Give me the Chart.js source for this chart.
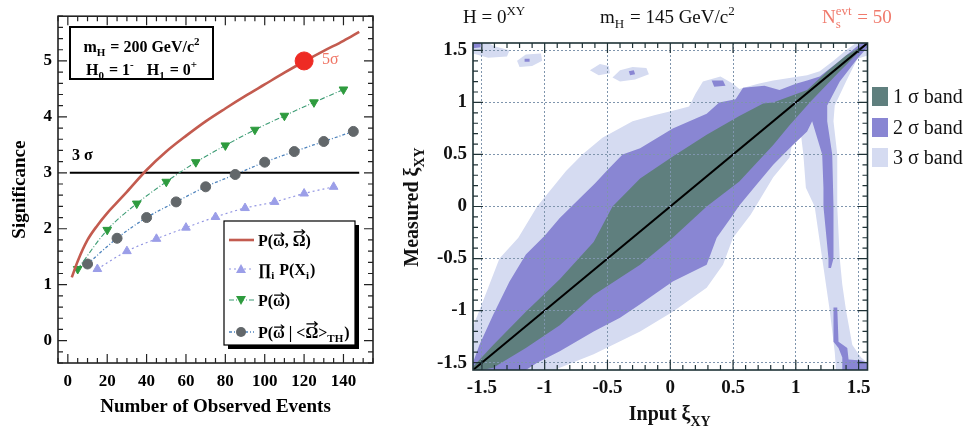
<!DOCTYPE html>
<html lang="en">
<head>
  <meta charset="UTF-8" />
  <title>Significance and measured xi</title>
  <script src="https://cdn.jsdelivr.net/npm/chart.js"></script>
  <style>
    body { margin: 0; background: #fff; width: 971px; height: 437px; position: relative; overflow: hidden; }
    canvas { position: absolute; top: 0; }
    #sigChart { left: 0; }
    #xiChart { left: 390px; }
  </style>
</head>
<body>
  <canvas id="sigChart" width="385" height="437"></canvas>
  <canvas id="xiChart" width="581" height="437"></canvas>

  <script>
    const SERIF = '"Liberation Serif", "Times New Roman", serif';

    // left panel: significance vs number of observed events
    const fullX = [2, 5, 10, 15, 20, 25, 30, 40, 50, 60, 70, 80, 90, 100, 110, 120, 130, 140, 148];
    const fullY = [1.13, 1.42, 1.80, 2.06, 2.28, 2.47, 2.66, 3.05, 3.38, 3.66, 3.92, 4.15, 4.37, 4.58, 4.79, 4.99, 5.18, 5.36, 5.52];
    const prodX = [15, 30, 45, 60, 75, 90, 105, 120, 135];
    const prodY = [1.28, 1.60, 1.82, 2.02, 2.21, 2.37, 2.48, 2.63, 2.75];
    const omegaX = [5, 20, 35, 50, 65, 80, 95, 110, 125, 140];
    const omegaY = [1.28, 1.98, 2.45, 2.84, 3.19, 3.49, 3.77, 4.02, 4.26, 4.49];
    const thX = [10, 25, 40, 55, 70, 85, 100, 115, 130, 145];
    const thY = [1.37, 1.83, 2.20, 2.48, 2.75, 2.97, 3.19, 3.38, 3.56, 3.74];
    const threeSigmaX = [1, 148];
    const threeSigmaY = [3, 3];
    const fiveSigmaX = [120];
    const fiveSigmaY = [5];
    const sigXTicks = [0, 20, 40, 60, 80, 100, 120, 140];
    const sigYTicks = [0, 1, 2, 3, 4, 5];

    // right panel: contour bands, [input xi, measured xi] outlines
    const oneSigma = [
      [-1.571, -1.571], [-1.571, -1.54], [-1.41, -1.33], [-1.15, -1.01], [-0.88, -0.70], [-0.61, -0.34],
      [-0.46, 0.0], [-0.24, 0.27], [0.02, 0.48], [0.29, 0.69], [0.55, 0.87], [0.74, 0.99], [0.82, 1.0],
      [1.09, 1.12], [1.25, 1.30], [1.40, 1.45], [1.571, 1.571],
      [1.40, 1.36], [1.35, 1.30], [1.12, 1.01], [1.09, 0.97], [0.95, 0.78], [0.82, 0.59], [0.55, 0.24],
      [0.29, 0.0], [0.02, -0.30], [-0.24, -0.56], [-0.61, -0.85], [-0.88, -1.14], [-1.15, -1.36],
      [-1.41, -1.55], [-1.50, -1.571]
    ];
    const twoSigma = [
      [-1.571, -1.571], [-1.571, -1.50], [-1.52, -1.33], [-1.41, -1.04], [-1.28, -0.72], [-1.15, -0.46],
      [-1.0, -0.28], [-0.88, -0.11], [-0.72, 0.08], [-0.6, 0.22], [-0.5, 0.35], [-0.38, 0.5], [-0.24, 0.56],
      [0.02, 0.75], [0.29, 0.89], [0.39, 1.0], [0.52, 1.03], [0.58, 1.14], [0.75, 1.16], [0.87, 1.12],
      [1.0, 1.18], [1.09, 1.21], [1.19, 1.25], [1.35, 1.40], [1.45, 1.50], [1.52, 1.571], [1.571, 1.571],
      [1.571, 1.53], [1.49, 1.42], [1.35, 1.2], [1.25, 0.97], [1.25, 0.82], [1.29, 0.5], [1.30, 0.0],
      [1.30, -0.5], [1.28, -0.59], [1.26, -0.59], [1.26, -0.5], [1.22, 0.0], [1.22, 0.18], [1.21, 0.5],
      [1.13, 0.82], [1.09, 0.72], [0.95, 0.56], [0.82, 0.40], [0.68, 0.2], [0.55, 0.01], [0.5, -0.08],
      [0.37, -0.3], [0.29, -0.56], [0.02, -0.72], [-0.24, -0.94], [-0.4, -1.07], [-0.61, -1.2],
      [-0.88, -1.39], [-1.06, -1.5], [-1.15, -1.571]
    ];
    const twoSigmaTail = [
      [1.30, -0.97], [1.33, -0.97], [1.34, -1.3], [1.41, -1.36], [1.42, -1.47], [1.52, -1.48],
      [1.571, -1.50], [1.571, -1.571], [1.37, -1.571], [1.37, -1.45], [1.34, -1.36], [1.30, -1.30]
    ];
    const twoSigmaSpots = [
      [[-1.571, 1.571], [-1.51, 1.571], [-1.51, 1.53], [-1.571, 1.52]],
      [[-1.16, 1.42], [-1.12, 1.42], [-1.12, 1.39], [-1.16, 1.39]],
      [[-0.33, 1.30], [-0.29, 1.31], [-0.28, 1.27], [-0.32, 1.26]],
      [[0.33, 1.21], [0.42, 1.21], [0.44, 1.16], [0.35, 1.15]]
    ];
    const threeSigma = [
      [-1.571, -1.571], [-1.571, -1.15], [-1.52, -1.0], [-1.45, -0.78], [-1.36, -0.5], [-1.21, -0.3],
      [-1.06, 0.0], [-0.83, 0.34], [-0.70, 0.5], [-0.54, 0.66], [-0.30, 0.82], [-0.12, 0.88], [0.02, 0.92],
      [0.15, 0.96], [0.20, 1.08], [0.26, 1.20], [0.40, 1.25], [0.50, 1.18], [0.55, 1.13], [0.70, 1.18],
      [0.82, 1.21], [1.09, 1.26], [1.19, 1.30], [1.30, 1.40], [1.40, 1.50], [1.48, 1.571], [1.571, 1.571],
      [1.571, 1.45], [1.49, 1.42], [1.40, 1.2], [1.31, 0.97], [1.30, 0.82], [1.33, 0.5], [1.33, 0.0],
      [1.35, -0.5], [1.37, -0.75], [1.40, -1.0], [1.45, -1.33], [1.52, -1.45], [1.571, -1.50],
      [1.571, -1.571], [1.32, -1.571], [1.31, -1.4], [1.27, -1.0], [1.24, -0.75], [1.21, -0.5],
      [1.15, 0.0], [1.08, 0.18], [1.06, 0.5], [1.03, 0.8], [1.0, 0.82], [0.97, 0.6], [0.95, 0.47],
      [0.82, 0.28], [0.68, 0.0], [0.64, -0.08], [0.5, -0.3], [0.42, -0.56], [0.29, -0.78], [0.02, -1.01],
      [-0.24, -1.2], [-0.61, -1.42], [-0.88, -1.55], [-0.92, -1.571]
    ];
    const threeSigmaIslands = [
      [[-1.571, 1.571], [-1.45, 1.571], [-1.40, 1.54], [-1.28, 1.50], [-1.30, 1.44], [-1.45, 1.43], [-1.571, 1.47]],
      [[-1.22, 1.40], [-1.15, 1.46], [-1.03, 1.47], [-1.02, 1.40], [-1.10, 1.35], [-1.20, 1.34]],
      [[-0.64, 1.31], [-0.56, 1.37], [-0.49, 1.35], [-0.48, 1.28], [-0.57, 1.26]],
      [[-0.46, 1.24], [-0.40, 1.31], [-0.30, 1.34], [-0.19, 1.33], [-0.17, 1.27], [-0.28, 1.22], [-0.40, 1.20]]
    ];
    const diagX = [-1.571, 1.571];
    const diagY = [-1.571, 1.571];
    const xiTicks = [-1.5, -1, -0.5, 0, 0.5, 1, 1.5];
    const bandLabels = ['1 σ band', '2 σ band', '3 σ band'];
    const bandColors = ['#5f7f7e', '#8986d3', '#d5dbf1'];

    const pts = (xs, ys) => xs.map((x, i) => ({ x, y: ys[i] }));
    const poly = arr => arr.map(([x, y]) => ({ x, y }));

    // text with sub/superscripts: [text, kind, text2]; kind '' | 'b' sub | 'p' sup | 's' both | 'v' vector
    function rich(ctx, parts, x, y, size, align, weight) {
      const f = s => `${weight} ${s}px ${SERIF}`;
      const sm = Math.round(size * 0.68);
      const ws = parts.map(p => {
        if (p[1] === 'b' || p[1] === 'p') { ctx.font = f(sm); return ctx.measureText(p[0]).width + 1; }
        if (p[1] === 's') { ctx.font = f(sm); return Math.max(ctx.measureText(p[0]).width, ctx.measureText(p[2]).width) + 1; }
        ctx.font = f(size); return ctx.measureText(p[0]).width;
      });
      const total = ws.reduce((a, b) => a + b, 0);
      let cx = align === 'center' ? x - total / 2 : align === 'right' ? x - total : x;
      ctx.textAlign = 'left';
      ctx.textBaseline = 'alphabetic';
      parts.forEach((p, i) => {
        const k = p[1];
        if (k === 'b') { ctx.font = f(sm); ctx.fillText(p[0], cx, y + size * 0.28); }
        else if (k === 'p') { ctx.font = f(sm); ctx.fillText(p[0], cx, y - size * 0.42); }
        else if (k === 's') { ctx.font = f(sm); ctx.fillText(p[0], cx, y + size * 0.28); ctx.fillText(p[2], cx, y - size * 0.42); }
        else {
          ctx.font = f(size); ctx.fillText(p[0], cx, y);
          if (k === 'v') {
            const ay = y - size * (p[0] === 'Ω' ? 0.88 : 0.68);
            ctx.save();
            ctx.strokeStyle = ctx.fillStyle; ctx.lineWidth = 1.2;
            ctx.beginPath();
            ctx.moveTo(cx + 1, ay); ctx.lineTo(cx + ws[i] - 1, ay);
            ctx.moveTo(cx + ws[i] - 4, ay - 2.5); ctx.lineTo(cx + ws[i] - 1, ay); ctx.lineTo(cx + ws[i] - 4, ay + 2.5);
            ctx.stroke();
            ctx.restore();
          }
        }
        cx += ws[i];
      });
      return total;
    }

    // ROOT-like frame with inward ticks on all four sides
    function framePlugin(xMajor, xStep, yMajor, yStep, color, majLen, minLen) {
      const steps = (min, max, step) => {
        const out = [];
        for (let v = Math.ceil(min / step - 1e-9) * step; v <= max + 1e-9; v += step) out.push(v);
        return out;
      };
      const isMajor = (list, v) => list.some(m => Math.abs(m - v) < 1e-6);
      return {
        id: 'frame',
        afterDraw(chart) {
          const { ctx, chartArea: a, scales: { x, y } } = chart;
          ctx.save();
          ctx.strokeStyle = color;
          ctx.lineWidth = 1.2;
          ctx.beginPath();
          steps(x.min, x.max, xStep).forEach(v => {
            const px = x.getPixelForValue(v), L = isMajor(xMajor, v) ? majLen : minLen;
            ctx.moveTo(px, a.bottom); ctx.lineTo(px, a.bottom - L);
            ctx.moveTo(px, a.top); ctx.lineTo(px, a.top + L);
          });
          steps(y.min, y.max, yStep).forEach(v => {
            const py = y.getPixelForValue(v), L = isMajor(yMajor, v) ? majLen : minLen;
            ctx.moveTo(a.left, py); ctx.lineTo(a.left + L, py);
            ctx.moveTo(a.right, py); ctx.lineTo(a.right - L, py);
          });
          ctx.stroke();
          ctx.lineWidth = 1.6;
          ctx.strokeRect(a.left, a.top, a.right - a.left, a.bottom - a.top);
          ctx.restore();
        }
      };
    }

    // ---------- left chart ----------
    const sigStyles = [
      { label: 'full', x: fullX, y: fullY, color: '#c35b4f', width: 2.6, dash: [], marker: null },
      { label: 'prod', x: prodX, y: prodY, color: '#9295e2', width: 1.2, dash: [2, 3], marker: 'up', fill: '#9b9ee8' },
      { label: 'omega', x: omegaX, y: omegaY, color: '#3c9c74', width: 1.1, dash: [5, 2, 1, 2], marker: 'down', fill: '#2e9b3e' },
      { label: 'th', x: thX, y: thY, color: '#4f84bd', width: 1.3, dash: [3, 2, 1, 2], marker: 'circle', fill: '#62676a' }
    ];

    const sigLegend = {
      id: 'sigLegend',
      afterDraw(chart) {
        const { ctx } = chart;
        ctx.save();
        // info box
        ctx.fillStyle = '#fff';
        ctx.strokeStyle = '#000';
        ctx.lineWidth = 2;
        ctx.strokeRect(70, 27, 143, 52);
        ctx.fillStyle = '#000';
        rich(ctx, [['m', ''], ['H', 'b'], [' = 200 GeV/c', ''], ['2', 'p']], 142, 52, 16, 'center', 'bold');
        rich(ctx, [['H', ''], ['0', 'b'], [' = 1', ''], ['-', 'p'], ['   H', ''], ['1', 'b'], [' = 0', ''], ['+', 'p']], 142, 75, 16, 'center', 'bold');
        // 3 sigma and 5 sigma labels
        rich(ctx, [['3 σ', '']], 72, 160, 16, 'left', 'bold');
        ctx.fillStyle = '#f07565';
        rich(ctx, [['5σ', '']], 322, 64, 16, 'left', 'normal');
        // legend box with shadow
        ctx.fillStyle = '#000';
        ctx.fillRect(228, 225, 131, 124);
        ctx.fillStyle = '#fff';
        ctx.fillRect(224, 221, 131, 124);
        ctx.strokeStyle = '#000';
        ctx.lineWidth = 1.2;
        ctx.strokeRect(224, 221, 131, 124);
        const rows = [240, 269, 300, 332];
        const texts = [
          [['P(', ''], ['ω', 'v'], [', ', ''], ['Ω', 'v'], [')', '']],
          [['∏', ''], ['i', 'b'], [' P(X', ''], ['i', 'b'], [')', '']],
          [['P(', ''], ['ω', 'v'], [')', '']],
          [['P(', ''], ['ω', 'v'], [' | <', ''], ['Ω', 'v'], ['>', ''], ['TH', 'b'], [')', '']]
        ];
        sigStyles.forEach((s, i) => {
          const yy = rows[i];
          ctx.strokeStyle = s.color;
          ctx.lineWidth = s.width;
          ctx.setLineDash(s.dash);
          ctx.beginPath(); ctx.moveTo(229, yy); ctx.lineTo(254, yy); ctx.stroke();
          ctx.setLineDash([]);
          if (s.marker) {
            ctx.fillStyle = s.fill;
            ctx.beginPath();
            if (s.marker === 'circle') ctx.arc(241, yy, 5, 0, Math.PI * 2);
            else if (s.marker === 'up') { ctx.moveTo(241, yy - 5); ctx.lineTo(246, yy + 4); ctx.lineTo(236, yy + 4); }
            else { ctx.moveTo(241, yy + 5); ctx.lineTo(246, yy - 4); ctx.lineTo(236, yy - 4); }
            ctx.fill();
          }
          ctx.fillStyle = '#000';
          rich(ctx, texts[i], 258, yy + 6, 16, 'left', 'bold');
        });
        ctx.restore();
      }
    };

    const sigDatasets = [
      { label: '5 sigma', data: pts(fiveSigmaX, fiveSigmaY), showLine: false, pointRadius: 9,
        pointBackgroundColor: '#ee2b24', pointBorderColor: '#ee2b24' }
    ];
    sigStyles.forEach(s => {
      sigDatasets.push({
        label: s.label,
        data: pts(s.x, s.y),
        borderColor: s.color,
        borderWidth: s.width,
        borderDash: s.dash,
        cubicInterpolationMode: 'monotone',
        pointRadius: s.marker ? 5 : 0,
        pointStyle: s.marker === 'circle' ? 'circle' : 'triangle',
        pointRotation: s.marker === 'down' ? 180 : 0,
        pointBackgroundColor: s.fill,
        pointBorderColor: s.fill,
        pointBorderWidth: 1
      });
    });
    sigDatasets.push({ label: '3 sigma', data: pts(threeSigmaX, threeSigmaY), borderColor: '#000', borderWidth: 2, pointRadius: 0 });

    const boldTick = { family: SERIF, size: 17, weight: 'bold' };

    new Chart(document.getElementById('sigChart'), {
      type: 'line',
      data: { datasets: sigDatasets },
      options: {
        responsive: false,
        animation: false,
        layout: { padding: { top: 13, right: 12, left: 0, bottom: 0 } },
        plugins: { legend: { display: false }, tooltip: { enabled: false } },
        scales: {
          x: {
            type: 'linear', min: -5, max: 155,
            afterBuildTicks: s => { s.ticks = sigXTicks.map(v => ({ value: v })); },
            afterFit: s => { s.height = 74; },
            ticks: { font: boldTick, color: '#000', padding: 8 },
            grid: { display: false, drawTicks: false },
            border: { display: false },
            title: { display: true, text: 'Number of Observed Events', color: '#000',
                     font: { family: SERIF, size: 19, weight: 'bold' }, padding: { top: 0, bottom: 19 } }
          },
          y: {
            min: -0.4, max: 5.8,
            afterBuildTicks: s => { s.ticks = sigYTicks.map(v => ({ value: v })); },
            afterFit: s => { s.width = 58; },
            ticks: { font: boldTick, color: '#000', padding: 6 },
            grid: { display: false, drawTicks: false },
            border: { display: false },
            title: { display: true, text: 'Significance', color: '#000',
                     font: { family: SERIF, size: 19, weight: 'bold' }, padding: { top: 9, bottom: 0 } }
          }
        }
      },
      plugins: [framePlugin(sigXTicks, 5, sigYTicks, 0.2, '#222', 9, 5), sigLegend]
    });

    // ---------- right chart ----------
    const band = (shape, color) => ({
      data: poly(shape), fill: 'shape', backgroundColor: color, borderWidth: 0, pointRadius: 0, tension: 0
    });
    const xiDatasets = [
      { label: 'diagonal', data: pts(diagX, diagY), borderColor: '#000', borderWidth: 2, pointRadius: 0 },
      band(oneSigma, bandColors[0]),
      band(twoSigma, bandColors[1]),
      band(twoSigmaTail, bandColors[1]),
      ...twoSigmaSpots.map(s => band(s, bandColors[1])),
      band(threeSigma, bandColors[2]),
      ...threeSigmaIslands.map(s => band(s, bandColors[2]))
    ];

    const xiText = {
      id: 'xiText',
      afterDraw(chart) {
        const { ctx, chartArea: a } = chart;
        ctx.save();
        ctx.fillStyle = '#111';
        rich(ctx, [['H = 0', ''], ['XY', 'p']], 73, 23, 19, 'left', 'normal');
        rich(ctx, [['m', ''], ['H', 'b'], [' = 145 GeV/c', ''], ['2', 'p']], 210, 23, 19, 'left', 'normal');
        ctx.fillStyle = '#f07a6c';
        rich(ctx, [['N', ''], ['s', 's', 'evt'], [' = 50', '']], 432, 23, 19, 'left', 'normal');
        // axis titles
        ctx.fillStyle = '#111';
        rich(ctx, [['Input ξ', ''], ['XY', 'b']], (a.left + a.right) / 2, 420, 20, 'center', 'bold');
        ctx.translate(28, (a.top + a.bottom) / 2);
        ctx.rotate(-Math.PI / 2);
        rich(ctx, [['Measured ξ', ''], ['XY', 'b']], 0, 0, 20, 'center', 'bold');
        ctx.restore();
        // legend
        ctx.save();
        const rows = [96, 127, 157];
        bandLabels.forEach((t, i) => {
          ctx.fillStyle = bandColors[i];
          ctx.fillRect(482, rows[i] - 9, 16, 19);
          ctx.fillStyle = '#111';
          rich(ctx, [[t, '']], 503, rows[i] + 7, 20, 'left', 'normal');
        });
        ctx.restore();
      }
    };

    const xiTick = { family: SERIF, size: 19, weight: 'bold' };
    const xiGrid = { display: true, z: 1, color: '#7f95ad', lineWidth: 1, drawTicks: false };

    new Chart(document.getElementById('xiChart'), {
      type: 'line',
      data: { datasets: xiDatasets },
      options: {
        responsive: false,
        animation: false,
        layout: { padding: { top: 43, right: 103.5, left: 0, bottom: 0 } },
        plugins: { legend: { display: false }, tooltip: { enabled: false } },
        scales: {
          x: {
            type: 'linear', min: -Math.PI / 2, max: Math.PI / 2,
            afterBuildTicks: s => { s.ticks = xiTicks.map(v => ({ value: v })); },
            afterFit: s => { s.height = 67; },
            ticks: { font: xiTick, color: '#111', padding: 7, callback: v => String(v) },
            grid: xiGrid,
            border: { display: false, dash: [2, 2] }
          },
          y: {
            min: -Math.PI / 2, max: Math.PI / 2,
            afterBuildTicks: s => { s.ticks = xiTicks.map(v => ({ value: v })); },
            afterFit: s => { s.width = 83; },
            ticks: { font: xiTick, color: '#111', padding: 6, callback: v => String(v) },
            grid: xiGrid,
            border: { display: false, dash: [2, 2] }
          }
        }
      },
      plugins: [framePlugin(xiTicks, 0.1, xiTicks, 0.1, '#1f3236', 10, 5), xiText]
    });
  </script>
</body>
</html>
